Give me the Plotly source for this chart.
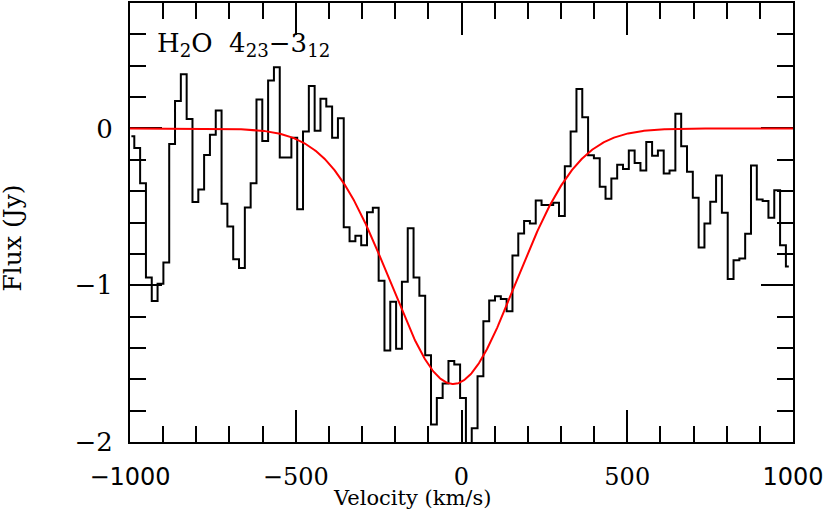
import plotly.graph_objects as go
import numpy as np

# --- data -------------------------------------------------------------------
channel0_kms = -995.8      # centre of first channel (km/s)
channel_width_kms = 17.55  # channel width (km/s)

flux_jy = [
    -0.05, -0.125, -0.35, -0.95, -1.10, -0.99, -0.855, -0.10, 0.175, 0.345,
    0.06, -0.47, -0.39, -0.17, -0.04, 0.115, -0.48, -0.625, -0.835, -0.89,
    -0.505, -0.35, 0.185, -0.08, 0.305, 0.39, -0.185, -0.185, -0.06, -0.515,
    -0.02, 0.27, -0.015, 0.19, 0.14, -0.06, 0.065, -0.63, -0.72, -0.685,
    -0.745, -0.535, -0.506, -0.972, -1.416, -1.105, -1.405, -0.978, -0.637, -0.95,
    -1.067, -1.447, -1.888, -1.72, -1.627, -1.484, -1.505, -1.72, -2.3, -1.913,
    -1.581, -1.23, -1.098, -1.071, -1.088, -1.166, -0.81, -0.67, -0.59, -0.607,
    -0.459, -0.489, -0.489, -0.474, -0.559, -0.241, -0.019, 0.252, 0.072, -0.171,
    -0.19, -0.372, -0.449, -0.32, -0.231, -0.258, -0.14, -0.22, -0.269, -0.087,
    -0.174, -0.14, -0.288, -0.269, 0.093, -0.114, -0.277, -0.442, -0.76, -0.607,
    -0.468, -0.30, -0.538, -0.961, -0.84, -0.83, -0.671, -0.237, -0.453, -0.463,
    -0.569, -0.394, -0.745, -0.88,
]
velocity_kms = [channel0_kms + channel_width_kms * i for i in range(len(flux_jy))]

# Gaussian fit parameters
fit_amplitude = -1.63
fit_center = -25.0
fit_fwhm = 443.0

x_tickvals = [-1000, -500, 0, 500, 1000]
x_ticktext = ['<span style="font-family:DejaVu Sans">\u22121000</span>', "\u2212500", "0", "500",
              '<span style="font-family:DejaVu Sans">1000</span>']
y_tickvals = [-2, -1, 0]
y_ticktext = ["\u22122", "\u22121", "0"]

# --- figure -----------------------------------------------------------------
fit_v = np.linspace(-1000, 1000, 801)
sig = fit_fwhm / (2 * np.sqrt(2 * np.log(2)))
fit_flux = fit_amplitude * np.exp(-0.5 * ((fit_v - fit_center) / sig) ** 2)

SERIF = "DejaVu Serif"

fig = go.Figure()
fig.add_trace(go.Scatter(x=velocity_kms, y=flux_jy, mode="lines",
                         line=dict(color="black", width=2, shape="hvh"),
                         showlegend=False))
fig.add_trace(go.Scatter(x=fit_v, y=fit_flux, mode="lines",
                         line=dict(color="#ff0000", width=2),
                         showlegend=False))

axis_common = dict(showgrid=False, zeroline=False, showline=True, linecolor="black",
                   linewidth=2, mirror="allticks", ticks="inside", ticklen=32,
                   tickwidth=2, tickcolor="black", layer="below traces")

fig.update_xaxes(range=[-1000, 1000], tickmode="array", tickvals=x_tickvals,
                 ticktext=x_ticktext, ticklabelstandoff=12,
                 tickfont=dict(family=SERIF, size=24, color="black"),
                 minor=dict(dtick=100, ticklen=16, ticks="inside", tickwidth=2,
                            tickcolor="black", showgrid=False),
                 **axis_common)
fig.update_yaxes(range=[-2, 0.8], tickmode="array", tickvals=y_tickvals,
                 ticktext=y_ticktext, ticklabelstandoff=10,
                 tickfont=dict(family=SERIF, size=26, color="black"),
                 minor=dict(dtick=0.2, ticklen=16, ticks="inside", tickwidth=2,
                            tickcolor="black", showgrid=False),
                 **axis_common)

fig.add_annotation(text="H<sub>2</sub>O  4<sub>23</sub>\u22123<sub>12</sub>",
                   xref="paper", yref="paper", x=0.038, y=0.905,
                   xanchor="left", yanchor="middle", showarrow=False,
                   font=dict(family=SERIF, size=26, color="black"))
fig.add_annotation(text="Velocity (km/s)", xref="paper", yref="paper",
                   x=0.425, y=-0.127, xanchor="center", yanchor="middle",
                   showarrow=False, font=dict(family=SERIF, size=21, color="black"))
fig.add_annotation(text="Flux (Jy)", xref="paper", yref="paper",
                   x=-0.177, y=0.465, xanchor="center", yanchor="middle",
                   textangle=-90, showarrow=False,
                   font=dict(family=SERIF, size=25, color="black"))

fig.update_layout(width=830, height=513, plot_bgcolor="white", paper_bgcolor="white",
                  margin=dict(l=130, r=37, t=1, b=71), showlegend=False)

fig.write_html("out.html", config={"displayModeBar": False},
               post_script="document.body.style.margin='0px';")
